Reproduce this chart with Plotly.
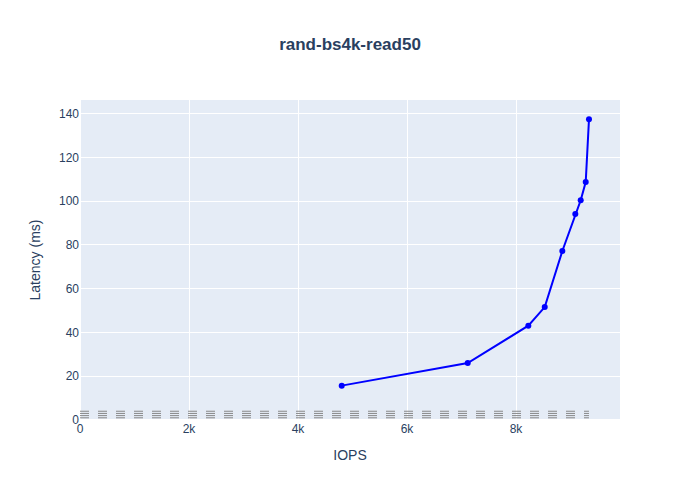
import plotly.graph_objects as go

# measured points (IOPS vs latency)
iops = [4802, 7114, 8226, 8527, 8850, 9088, 9187, 9279, 9339]
latency_ms = [15.7, 26.0, 43.1, 51.6, 77.2, 94.1, 100.4, 108.7, 137.4]

# faint dashed reference lines near the floor
ref_levels = [1, 2, 3, 4]
ref_span = [0, 9339]

fig = go.Figure()

for lvl in ref_levels:
    fig.add_trace(
        go.Scatter(
            x=ref_span,
            y=[lvl, lvl],
            mode="lines",
            line={"color": "#888888", "width": 1, "dash": "dash"},
            hoverinfo="skip",
            showlegend=False,
        )
    )

fig.add_trace(
    go.Scatter(
        x=iops,
        y=latency_ms,
        mode="lines+markers",
        line={"color": "blue", "width": 2},
        marker={"color": "blue", "size": 6},
        showlegend=False,
    )
)

fig.update_layout(
    width=700,
    height=500,
    font={"family": "Liberation Sans, Arial, sans-serif"},
    title={
        "text": "<b>rand-bs4k-read50</b>",
        "x": 0.5,
        "font": {"size": 17},
    },
    xaxis={"title": {"text": "IOPS"}, "range": [0, 9908]},
    yaxis={"title": {"text": "Latency (ms)"}, "range": [0, 146.2]},
    showlegend=False,
)

# page body has a default 8px margin; drop it so the figure sits at the corner
fig.write_html(
    "out.html",
    config={"displayModeBar": False},
    post_script="document.body.style.margin = '0';",
)
